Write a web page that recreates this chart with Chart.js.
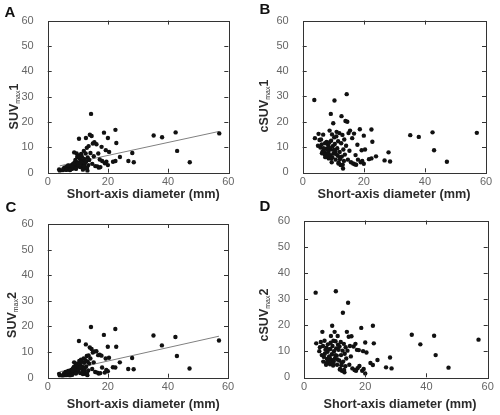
<!DOCTYPE html>
<html>
<head>
<meta charset="utf-8">
<script src="https://cdn.jsdelivr.net/npm/chart.js@4.4.1/dist/chart.umd.min.js"></script>
<style>
	body { margin: 0; background: #fff; }
	#wrap { position: relative; width: 500px; height: 415px; overflow: hidden; }
	canvas { position: absolute; }
</style>
</head>
<body>
<div id="wrap">
	<canvas id="cA" width="250" height="205" style="left:0;top:0"></canvas>
	<canvas id="cB" width="250" height="205" style="left:250px;top:0"></canvas>
	<canvas id="cC" width="250" height="220" style="left:0;top:195px"></canvas>
	<canvas id="cD" width="250" height="220" style="left:250px;top:195px"></canvas>
</div>
<script>
// short-axis diameter (mm), same lesions in all four panels
var diameter = [3.8, 4.0, 5.2, 5.5, 5.8, 6.0, 6.2, 6.5, 6.7, 7.0, 7.2, 7.3, 7.5, 7.7, 7.8, 8.0, 8.1, 8.3, 8.4, 8.5,
	8.7, 8.8, 9.0, 9.1, 9.2, 9.3, 9.5, 9.6, 9.7, 9.8, 10.0, 10.1, 10.3, 10.4, 10.5, 10.7, 10.8, 11.0, 11.1, 11.3,
	11.5, 11.6, 11.8, 12.0, 12.1, 12.3, 12.4, 12.6, 12.7, 12.8, 13.0, 13.2, 13.3, 13.5, 13.6, 13.8, 14.0, 14.2, 14.4, 14.6,
	14.8, 15.0, 15.3, 15.5, 15.8, 16.2, 16.5, 16.8, 17.0, 17.3, 17.5, 17.9, 18.1, 18.7, 19.0, 19.3, 19.5, 20.0, 20.0, 20.4,
	21.7, 22.5, 22.5, 22.8, 24.0, 26.8, 28.1, 28.6, 35.2, 38.0, 42.5, 43.0, 47.2, 57.0,
	5.0, 6.3, 6.8, 7.4, 8.2, 8.6, 9.4, 10.2, 10.9, 11.7, 12.2, 13.1];
var suvMax1 = [1.3, 0.8, 1.5, 2.0, 1.2, 1.9, 2.3, 1.6, 2.5, 1.8, 2.0, 1.4, 2.6, 1.7, 2.2, 3.0, 1.5, 2.4, 3.4, 1.9,
	2.8, 8.0, 3.9, 2.1, 5.0, 4.5, 2.9, 7.6, 3.3, 6.2, 4.0, 2.5, 3.6, 13.4, 6.8, 5.5, 2.2, 4.3, 7.4, 6.5,
	3.1, 4.8, 2.6, 8.6, 5.4, 3.7, 1.8, 7.6, 13.7, 4.5, 9.8, 0.8, 6.0, 3.0, 10.5, 5.0, 15.0, 7.8, 23.2, 14.5,
	3.5, 11.5, 6.5, 12.0, 2.6, 11.2, 2.5, 7.6, 2.0, 5.2, 2.2, 10.2, 4.6, 15.8, 3.7, 8.9, 4.3, 13.7, 3.0, 8.2,
	4.3, 16.9, 4.6, 11.7, 6.2, 4.6, 7.8, 4.1, 14.7, 14.0, 15.9, 8.6, 4.1, 15.5,
	1.0, 1.1, 2.9, 1.0, 2.7, 3.6, 1.5, 3.2, 4.0, 1.2, 2.5, 2.0];
var csuvMax1 = [28.6, 13.5, 15.2, 12.8, 9.8, 13.0, 11.0, 8.2, 14.9, 8.0, 7.0, 11.5, 6.5, 9.3, 12.0, 7.3, 6.2, 10.8, 7.8, 5.5,
	11.8, 16.5, 6.8, 9.0, 23.1, 12.5, 4.0, 15.0, 6.0, 10.3, 19.4, 7.5, 13.8, 28.4, 11.2, 8.3, 5.0, 14.2, 16.0, 9.5,
	6.5, 12.3, 3.8, 15.5, 8.0, 5.8, 2.9, 11.5, 22.2, 6.2, 14.8, 1.5, 9.0, 4.5, 13.0, 7.0, 20.3, 10.5, 30.9, 20.0,
	5.0, 15.5, 8.5, 16.5, 4.0, 13.5, 3.5, 15.3, 3.2, 6.8, 3.0, 10.9, 5.0, 17.0, 4.0, 8.7, 4.5, 14.5, 3.4, 9.0,
	5.2, 16.9, 5.5, 12.1, 6.3, 4.7, 7.9, 4.3, 14.7, 14.0, 15.8, 8.7, 4.2, 15.6,
	10.5, 7.5, 9.5, 6.0, 8.8, 9.8, 5.5, 8.8, 7.2, 3.5, 5.2, 3.0];
var suvMax2 = [1.5, 0.9, 1.2, 1.8, 1.0, 2.2, 1.5, 1.3, 2.0, 2.5, 1.2, 1.6, 2.8, 1.9, 2.3, 3.1, 1.1, 2.6, 3.5, 1.7,
	4.2, 6.0, 3.2, 2.4, 4.0, 4.8, 2.0, 5.5, 3.0, 5.0, 4.5, 2.7, 3.8, 14.3, 6.5, 5.2, 1.8, 4.5, 7.0, 6.2,
	3.3, 4.2, 2.5, 7.5, 5.8, 3.6, 1.5, 6.8, 13.0, 4.4, 8.5, 1.0, 6.2, 2.8, 8.7, 5.5, 11.8, 7.5, 19.8, 11.2,
	3.4, 9.8, 6.0, 10.2, 2.2, 10.3, 2.0, 8.8, 1.6, 9.0, 1.8, 8.6, 4.0, 16.7, 2.0, 7.5, 3.0, 12.1, 2.5, 7.8,
	4.1, 19.0, 4.0, 12.1, 6.0, 3.4, 7.7, 3.3, 16.5, 12.6, 15.9, 8.5, 3.6, 14.5,
	0.8, 1.0, 2.6, 0.9, 2.9, 3.8, 1.6, 3.0, 4.1, 1.4, 2.6, 1.8];
var csuvMax2 = [32.4, 13.0, 11.5, 13.5, 8.5, 17.4, 12.0, 7.8, 14.0, 10.5, 4.8, 11.3, 7.0, 9.8, 12.6, 6.5, 5.7, 10.8, 7.5, 5.0,
	13.2, 15.8, 6.6, 8.8, 19.7, 12.0, 4.5, 14.0, 6.0, 10.0, 17.4, 7.2, 13.8, 32.9, 11.0, 8.3, 4.8, 15.8, 12.5, 10.5,
	6.4, 11.8, 3.2, 13.5, 8.5, 5.5, 2.5, 10.2, 24.7, 6.0, 12.8, 1.9, 9.0, 4.2, 11.5, 7.2, 17.4, 10.2, 28.5, 15.5,
	4.8, 12.0, 8.0, 15.7, 3.4, 11.8, 2.8, 12.8, 2.5, 10.5, 3.5, 10.4, 4.3, 18.9, 2.5, 10.0, 3.2, 13.3, 1.5, 9.5,
	5.5, 19.7, 4.7, 13.0, 6.6, 3.8, 7.6, 3.4, 16.3, 12.6, 15.9, 8.5, 3.7, 14.4,
	10.0, 6.0, 9.0, 5.5, 8.0, 10.8, 5.2, 8.5, 6.8, 3.0, 4.6, 2.8];

// fitted lines (end points)
var trendX = [4, 57];
var trend1 = [2.7, 16.3];
var trend2 = [2.3, 16.2];

var xTicks = [0, 20, 40, 60];
var yTicks = [0, 10, 20, 30, 40, 50, 60];

var FONT = "'Liberation Sans', Arial, sans-serif";

function pairs(xs, ys) {
	return xs.map(function(x, i) { return {x: x, y: ys[i]}; });
}

// draws a rotated axis title with a subscript part
function drawYTitle(ctx, cx, cy, parts) {
	ctx.save();
	ctx.translate(cx, cy);
	ctx.rotate(-Math.PI / 2);
	ctx.fillStyle = '#2b2b2b';
	ctx.textBaseline = 'alphabetic';
	ctx.textAlign = 'left';
	var w = 0;
	parts.forEach(function(p) {
		ctx.font = p.sub ? '7px ' + FONT : 'bold 12.5px ' + FONT;
		p.w = ctx.measureText(p.t).width;
		w += p.w;
	});
	var x = -w / 2;
	parts.forEach(function(p) {
		ctx.font = p.sub ? '7px ' + FONT : 'bold 12.5px ' + FONT;
		ctx.fillText(p.t, x, p.sub ? 7 : 4.5);
		x += p.w;
	});
	ctx.restore();
}

function makePanel(id, o) {
	var cv = document.getElementById(id);
	var H = cv.height, W = cv.width;
	var datasets = [{
		data: pairs(diameter, o.values),
		pointRadius: 2.2,
		pointHoverRadius: 2.2,
		backgroundColor: '#111',
		borderWidth: 0,
		order: 1
	}];
	if (o.trend) {
		datasets.push({
			data: pairs(trendX, o.trend),
			showLine: true,
			borderColor: '#808080',
			borderWidth: 1,
			pointRadius: 0,
			order: 2
		});
	}
	var deco = {
		id: 'deco',
		afterDraw: function(chart) {
			var ctx = chart.ctx, a = chart.chartArea;
			var sx = chart.scales.x, sy = chart.scales.y;
			ctx.save();
			ctx.strokeStyle = '#333';
			ctx.lineWidth = 1;
			ctx.strokeRect(Math.round(a.left) + 0.5, Math.round(a.top) + 0.5, Math.round(a.right - a.left), Math.round(a.bottom - a.top));
			ctx.beginPath();
			yTicks.slice(1, -1).forEach(function(v) {
				var py = Math.round(sy.getPixelForValue(v)) + 0.5;
				ctx.moveTo(a.left, py); ctx.lineTo(a.left + 4, py);
				ctx.moveTo(a.right, py); ctx.lineTo(a.right - 4, py);
			});
			xTicks.slice(1, -1).forEach(function(v) {
				var px = Math.round(sx.getPixelForValue(v)) + 0.5;
				ctx.moveTo(px, a.bottom); ctx.lineTo(px, a.bottom - 4);
				ctx.moveTo(px, a.top); ctx.lineTo(px, a.top + 4);
			});
			ctx.stroke();
			// panel letter
			ctx.fillStyle = '#111';
			ctx.font = 'bold 15px ' + FONT;
			ctx.textAlign = 'center';
			ctx.textBaseline = 'middle';
			ctx.fillText(o.letter, o.letterPos[0], o.letterPos[1]);
			// x title
			ctx.fillStyle = '#2b2b2b';
			ctx.font = 'bold 12.7px ' + FONT;
			ctx.fillText('Short-axis diameter (mm)', o.xTitlePos[0], o.xTitlePos[1]);
			ctx.restore();
			drawYTitle(ctx, o.yTitlePos[0], o.yTitlePos[1], o.yTitle);
		}
	};
	return new Chart(cv.getContext('2d'), {
		type: 'scatter',
		data: {datasets: datasets},
		options: {
			responsive: false,
			animation: false,
			devicePixelRatio: 1,
			layout: {padding: {left: 0, top: o.box[1], right: W - o.box[2], bottom: 0}},
			plugins: {legend: {display: false}, tooltip: {enabled: false}},
			scales: {
				x: {
					type: 'linear', min: 0, max: 60,
					afterBuildTicks: function(s) { s.ticks = xTicks.map(function(v) { return {value: v}; }); },
					afterFit: function(s) { s.height = H - o.box[3]; },
					ticks: {color: '#666', font: {size: 11, family: FONT}, padding: 3, maxRotation: 0},
					grid: {display: false, drawTicks: false},
					border: {display: false}
				},
				y: {
					type: 'linear', min: 0, max: 60,
					afterBuildTicks: function(s) { s.ticks = yTicks.map(function(v) { return {value: v}; }); },
					afterFit: function(s) { s.width = o.box[0]; },
					ticks: {color: '#666', font: {size: 11, family: FONT}, padding: 14},
					grid: {display: false, drawTicks: false},
					border: {display: false}
				}
			}
		},
		plugins: [deco]
	});
}

makePanel('cA', {
	values: suvMax1, trend: trend1, letter: 'A',
	box: [47.7, 19.3, 228.3, 172.7],
	letterPos: [10, 13], xTitlePos: [143.3, 194.3], yTitlePos: [13.3, 106.5],
	yTitle: [{t: 'SUV'}, {t: 'max', sub: true}, {t: '1'}]
});
makePanel('cB', {
	values: csuvMax1, letter: 'B',
	box: [52.7, 15.7, 236, 172.3],
	letterPos: [15, 10], xTitlePos: [144, 194.7], yTitlePos: [13.3, 106],
	yTitle: [{t: 'cSUV'}, {t: 'max', sub: true}, {t: '1'}]
});
makePanel('cC', {
	values: suvMax2, trend: trend2, letter: 'C',
	box: [47.7, 29, 228, 182.7],
	letterPos: [11, 13], xTitlePos: [143.3, 209], yTitlePos: [11, 120],
	yTitle: [{t: 'SUV'}, {t: 'max', sub: true}, {t: '2'}]
});
makePanel('cD', {
	values: csuvMax2, letter: 'D',
	box: [54, 25.5, 237.7, 182.3],
	letterPos: [15, 12], xTitlePos: [150, 209.3], yTitlePos: [13.3, 120],
	yTitle: [{t: 'cSUV'}, {t: 'max', sub: true}, {t: '2'}]
});
</script>
</body>
</html>
